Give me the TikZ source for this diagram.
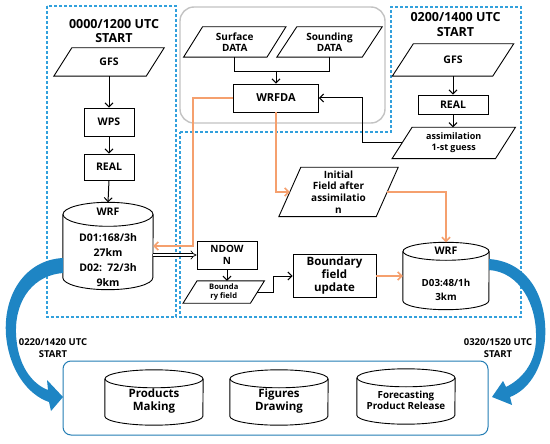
\documentclass[tikz,border=0pt]{standalone}
\usepackage{fontspec}
\setmainfont{Open Sans}
\usetikzlibrary{arrows.meta,calc}
\definecolor{dashblue}{RGB}{50,160,220}
\definecolor{greybox}{RGB}{195,195,195}
\definecolor{orng}{RGB}{245,160,110}
\definecolor{botblue}{RGB}{35,125,180}
\definecolor{arrblue}{RGB}{30,133,196}
\newcommand{\fs}[2]{\fontsize{#1}{#2}\selectfont}
\newcommand{\paral}[2]{%
  \draw[line width=0.9pt] ($(#1.south west)+(-#2pt,0pt)$) -- ($(#1.north west)+(#2pt,0pt)$) -- ($(#1.north east)+(#2pt,0pt)$) -- ($(#1.south east)+(-#2pt,0pt)$) -- cycle;}
\newcommand{\cylout}[3]{%
  \draw[line width=0.9pt] ($(#1.north west)+(0pt,-#3pt)$) -- ($(#1.south west)+(0pt,#3pt)$) arc[start angle=180,end angle=360,x radius=#2pt,y radius=#3pt] -- ($(#1.north east)+(0pt,-#3pt)$);
  \draw[line width=0.9pt] ($(#1.north)+(0pt,-#3pt)$) ellipse[x radius=#2pt,y radius=#3pt];}
\tikzset{
  every node/.style={font=\bfseries\fs{10.5}{12.5}, align=center, inner sep=0pt},
  box/.style={draw, line width=0.9pt},
  holder/.style={inner sep=0pt},
  blk/.style={line width=1pt, -{Straight Barb[length=4pt,width=8pt]}},
  org/.style={draw=orng, line width=1.5pt, -{Straight Barb[length=4pt,width=8pt]}},
  dbl/.style={double=white, double distance=2.4pt, line width=0.7pt, -{Implies}},
  dbox/.style={draw=dashblue, dash pattern=on 3pt off 2pt, line width=1.1pt},
}
\begin{document}
\begin{tikzpicture}[x=1pt,y=-1pt]
\useasboundingbox (0,0) rectangle (550,444);
\fill[white] (0,0) rectangle (550,444);
% regions
\draw[dbox] (47,6) rectangle (176,317);
\draw[dbox] (180,132) -- (391,132) -- (391,7) -- (521,7) -- (521,317) -- (180,317) -- cycle;
\draw[greybox, line width=1.4pt, rounded corners=14pt] (180,7) rectangle (385,123);
\draw[botblue, line width=1pt, rounded corners=8pt] (63,361) rectangle (488,435);
% titles
\node[font=\bfseries\fs{12.5}{14.5}] (t1) at (114,31) {0000/1200 UTC\\START};
\node[font=\bfseries\fs{12.5}{14.5}] (t2) at (455.5,24.5) {0200/1400 UTC\\START};
% parallelograms
\node[holder, minimum width=92pt, minimum height=28pt] (gfs1) at (109,62) {GFS};
\paral{gfs1}{9}
\node[holder, minimum width=83pt, minimum height=30pt, font=\bfseries\fs{10}{11.5}] (surf) at (234.75,42) {Surface\\DATA};
\paral{surf}{9.5}
\node[holder, minimum width=85pt, minimum height=30pt, font=\bfseries\fs{10}{11.5}] (sound) at (329.5,42) {Sounding\\DATA};
\paral{sound}{10}
\node[holder, minimum width=100pt, minimum height=32pt] (gfs2) at (453,60) {GFS};
\paral{gfs2}{10.5}
\node[holder, minimum width=103pt, minimum height=31pt, font=\bfseries\fs{9}{11}] (assim) at (453.75,143) {assimilation\\1-st guess};
\paral{assim}{10}
\node[holder, minimum width=97pt, minimum height=49pt, font=\bfseries\fs{10}{11.8}] (init) at (338.5,192) {Initial\\Field after\\assimilatio\\n};
\paral{init}{11}
\node[holder, minimum width=67pt, minimum height=22pt, font=\bfseries\fs{7.6}{9}] (bfield) at (223.75,292) {Bounda\\ry field};
\paral{bfield}{7}
% rectangles
\node[box, minimum width=50pt, minimum height=28pt] (wps) at (109,122) {WPS};
\node[box, minimum width=50pt, minimum height=26pt] (real1) at (109,167) {REAL};
\node[box, minimum width=85pt, minimum height=28pt, font=\bfseries\fs{11}{13}] (wrfda) at (276,98) {WRFDA};
\node[box, minimum width=70pt, minimum height=19pt] (real2) at (453,104.5) {REAL};
\node[box, minimum width=60pt, minimum height=28pt, font=\bfseries\fs{10}{11.5}] (ndown) at (227,255) {NDOW\\N};
\node[box, minimum width=83pt, minimum height=43pt, font=\bfseries\fs{11.5}{13}] (bupd) at (334.5,276) {Boundary\\field\\update};
% cylinders
\node[holder, minimum width=90pt, minimum height=87pt] (wrf1) at (108,246) {};
\cylout{wrf1}{45}{12}
\node (wrf1t) at (108,212) {WRF};
\node[font=\bfseries\fs{10.5}{15}] (wrf1d) at (108,260.5) {D01:168/3h\\27km\\D02:\ \ 72/3h\\9km};
\node[holder, minimum width=86pt, minimum height=67pt] (wrf2) at (446,276) {};
\cylout{wrf2}{43}{9}
\node (wrf2t) at (446,251) {WRF};
\node[font=\bfseries\fs{9.8}{14}] (wrf2d) at (446,290) {D03:48/1h\\3km};
\node[holder, minimum width=98pt, minimum height=55pt] (prod) at (154,397.5) {};
\cylout{prod}{49}{9}
\node[font=\bfseries\fs{11.5}{13}] (prodt) at (154,401.5) {Products\\Making};
\node[holder, minimum width=98pt, minimum height=55pt] (fig) at (279,397.5) {};
\cylout{fig}{49}{9}
\node[font=\bfseries\fs{11.5}{13}] (figt) at (279,401.5) {Figures\\Drawing};
\node[holder, minimum width=98pt, minimum height=55pt] (fore) at (406,396.5) {};
\cylout{fore}{49}{9}
\node[font=\bfseries\fs{9.8}{11.5}] (foret) at (406,400.5) {Forecasting\\Product Release};
% black connectors
\draw[blk] (gfs1.south) -- (wps.north);
\draw[blk] (wps.south) -- (real1.north);
\draw[blk] (real1.south) -- (wrf1.north);
\draw[line width=1pt] (surf.south) -- ++(0,14) -| (sound.south);
\draw[blk] ($(wrfda.north)+(0pt,13pt)$) -- (wrfda.north);
\draw[blk] (real2.north |- gfs2.south) -- (real2.north);
\draw[blk] (real2.south) -- (real2.south |- assim.north);
\draw[blk] (assim.west) -| ($(wrfda.east)+(44pt,0pt)$) -- (wrfda.east);
\draw[dbl] (wrf1.east |- ndown.west) -- (ndown.west);
\draw[blk] (ndown.south) -- (ndown.south |- bfield.north);
\draw[blk] (bfield.east) -- ++(16,0) |- (bupd.west);
% orange connectors
\draw[org] (wrfda.west) -| ($(wrf1.east)+(40pt,0pt)$) -- (wrf1.east);
\draw[org] (wrfda.south) |- (init.west);
\draw[org] (init.east) -| (wrf2.north);
\draw[org] (bupd.east) -- (wrf2.west);
% big blue arrows
\fill[arrblue] (63,258) .. controls (25,260) and (3,295) .. (6,335) .. controls (9,370) and (28,395) .. (49,402) -- (51,411) -- (63,397) -- (47,380) -- (48,390) .. controls (32,384) and (17,365) .. (16,333) .. controls (15,298) and (35,275) .. (63,273) -- cycle;
\fill[arrblue] (489,259) .. controls (530,262) and (548,300) .. (545,340) .. controls (542,370) and (528,390) .. (510,397) -- (512,405) -- (492,397) -- (503,381) -- (506,387) .. controls (520,380) and (536,365) .. (536,338) .. controls (537,305) and (520,272) .. (489,270) -- cycle;
\node[font=\bfseries\fs{9.5}{11.5}] (lab1) at (53,348) {0220/1420 UTC\\START};
\node[font=\bfseries\fs{9.5}{11.5}] (lab2) at (498,348) {0320/1520 UTC\\START};
\end{tikzpicture}
\end{document}
